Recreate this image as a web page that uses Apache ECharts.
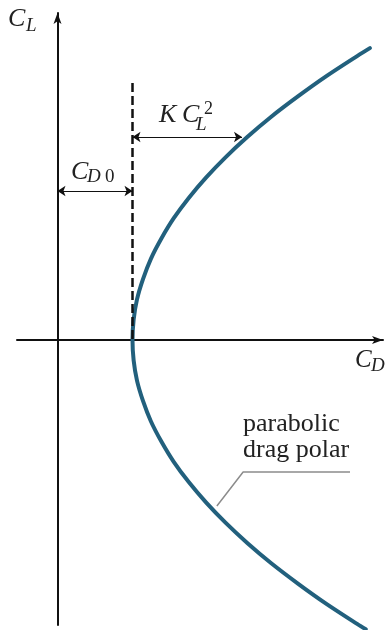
<!DOCTYPE html>
<html>
<head>
<meta charset="utf-8">
<style>
  html, body { margin: 0; padding: 0; background: #ffffff; }
  #chart { width: 390px; height: 630px; }
</style>
<script src="https://cdn.jsdelivr.net/npm/echarts@6/dist/echarts.min.js"></script>
</head>
<body>
<div id="chart"></div>
<script>
// Parabolic drag polar: lift coefficient vs drag coefficient (schematic)
const liftCoeff = [1.438, 1.4, 1.3, 1.2, 1.1, 1.0, 0.9, 0.8, 0.7, 0.6, 0.5, 0.4, 0.3, 0.2, 0.1, 0,
                   -0.1, -0.2, -0.3, -0.4, -0.5, -0.6, -0.7, -0.8, -0.9, -1.0, -1.1, -1.2, -1.3, -1.4, -1.425];
const dragCoeff = [0.0833, 0.0800, 0.0717, 0.0641, 0.0570, 0.0506, 0.0448, 0.0396, 0.0350, 0.0310, 0.0277, 0.0249, 0.0228, 0.0212, 0.0203, 0.0200,
                   0.0203, 0.0212, 0.0228, 0.0249, 0.0277, 0.0310, 0.0350, 0.0396, 0.0448, 0.0506, 0.0570, 0.0641, 0.0717, 0.0800, 0.0822];

// zero-lift drag and the reference lines
const cd0 = 0.02;
const cd0ArrowCL = 0.734;        // height of the C_D0 dimension arrow
const kArrowCL = 1.0;            // height of the K C_L^2 dimension arrow
const kArrowEndCD = 0.0492;      // where that arrow meets the polar
const dashTopCL = 1.266;         // top of the dashed C_D0 line

// leader line for the curve annotation: [CD, CL]
const leaderCD = [0.0425, 0.0495, 0.0780];
const leaderCL = [-0.818, -0.650, -0.650];

const curveData = liftCoeff.map((cl, i) => [dragCoeff[i], cl]);
const leaderData = leaderCL.map((cl, i) => [leaderCD[i], cl]);

const serif = '"Liberation Serif", "Times New Roman", serif';
const ink = '#222222';

function txt(x, y, s, size, italic) {
  return {
    type: 'text', x: x, y: y, silent: true,
    style: {
      text: s,
      font: (italic ? 'italic ' : '') + size + 'px ' + serif,
      fill: ink, align: 'left', verticalAlign: 'middle'
    }
  };
}

const chart = echarts.init(document.getElementById('chart'), null, { renderer: 'canvas' });

const axisCommon = {
  type: 'value',
  axisLine: {
    show: true, onZero: true,
    symbol: ['none', 'arrow'], symbolSize: [6, 11],
    lineStyle: { color: '#111111', width: 2 }
  },
  axisTick: { show: false },
  axisLabel: { show: false },
  splitLine: { show: false }
};

chart.setOption({
  animation: false,
  backgroundColor: '#ffffff',
  grid: { left: 17, right: 7, top: 13, bottom: 5 },
  xAxis: Object.assign({}, axisCommon, { min: -0.0108, max: 0.0868 }),
  yAxis: Object.assign({}, axisCommon, { min: -1.404, max: 1.611 }),
  series: [
    {
      type: 'line',
      data: curveData,
      smooth: 0.3,
      symbol: 'none',
      clip: false,
      lineStyle: { color: '#22607d', width: 4, cap: 'round' },
      z: 3,
      markLine: {
        silent: true,
        animation: false,
        label: { show: false },
        emphasis: { disabled: true },
        data: [
          [
            { coord: [cd0, dashTopCL], symbol: 'none', lineStyle: { color: '#111111', width: 2.5, type: [9, 4] } },
            { coord: [cd0, 0], symbol: 'none' }
          ],
          [
            { coord: [0, cd0ArrowCL], symbol: 'arrow', symbolSize: 8, lineStyle: { color: '#111111', width: 1.2, type: 'solid' } },
            { coord: [cd0, cd0ArrowCL], symbol: 'arrow', symbolSize: 8 }
          ],
          [
            { coord: [cd0, kArrowCL], symbol: 'arrow', symbolSize: 8, lineStyle: { color: '#111111', width: 1.2, type: 'solid' } },
            { coord: [kArrowEndCD, kArrowCL], symbol: 'arrow', symbolSize: 8 }
          ]
        ]
      }
    },
    {
      type: 'line',
      data: leaderData,
      symbol: 'none',
      silent: true,
      lineStyle: { color: '#8c8c8c', width: 1.5 },
      z: 2
    }
  ],
  graphic: [
    // C_L
    txt(8, 19, 'C', 26, true),
    txt(26, 26, 'L', 19, true),
    // C_D
    txt(355, 360, 'C', 25, true),
    txt(371, 366, 'D', 19, true),
    // K C_L^2
    txt(159, 115, 'K', 26, true),
    txt(182, 115, 'C', 26, true),
    txt(196, 125, 'L', 19, true),
    txt(204, 109, '2', 18, false),
    // C_D0
    txt(71, 172, 'C', 26, true),
    txt(87, 177, 'D', 19, true),
    txt(105, 177, '0', 19, false),
    // curve annotation
    txt(243, 424, 'parabolic', 26, false),
    txt(243, 450, 'drag polar', 26, false)
  ]
});
</script>
</body>
</html>
